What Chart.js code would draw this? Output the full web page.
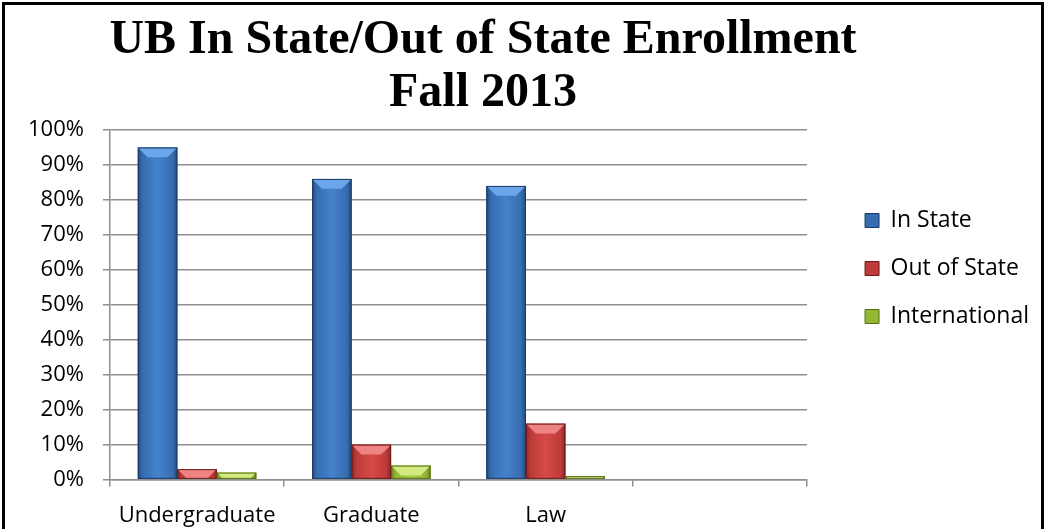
<!DOCTYPE html>
<html><head><meta charset="utf-8">
<script src="https://cdn.jsdelivr.net/npm/chart.js@4"></script>
<style>
html,body{margin:0;padding:0;background:#fff;overflow:hidden}
#frame{position:absolute;left:2px;top:2px;width:1042px;height:560px;border:3px solid #000;box-sizing:border-box}
#wrap{position:absolute;left:0;top:0;width:1036px;height:540px}
</style></head><body>
<div id="frame"><div id="wrap"><canvas id="c"></canvas></div></div>
<script>
const titleLines = ['UB In State/Out of State Enrollment', 'Fall 2013'];
const categories = ['Undergraduate', 'Graduate', 'Law', ''];
const seriesNames = ['In State', 'Out of State', 'International'];
const inState = [95, 86, 84, null];
const outOfState = [3, 10, 16, null];
const international = [2, 4, 1, null];
const yTickValues = [0, 10, 20, 30, 40, 50, 60, 70, 80, 90, 100];

const palettes = [
  {base:'#3a70b5', dark:'#234a7d', mid:'#376db0', light:'#4482cc', top:'#6aa6ea', edge:'#1c3b64'},
  {base:'#c03d3a', dark:'#8c2826', mid:'#bd3b38', light:'#d64a47', top:'#ee8383', edge:'#6e1c1b'},
  {base:'#96bb33', dark:'#6c8820', mid:'#93b832', light:'#a7cc42', top:'#d2ea80', edge:'#566d16'}
];

const GRID = '#8f8f8f';
const FONT = "'Open Sans', sans-serif";
const LEGEND_SHIFT = 33;

const bevelPlugin = {
  id: 'bevel',
  afterDatasetsDraw(chart) {
    const ctx = chart.ctx;
    ctx.save();
    chart.data.datasets.forEach((ds, i) => {
      const meta = chart.getDatasetMeta(i);
      const pal = palettes[i];
      meta.data.forEach((el, j) => {
        if (ds.data[j] === null || ds.data[j] === undefined) return;
        const p = el.getProps(['x', 'y', 'base', 'width'], true);
        const l = p.x - p.width / 2, r = p.x + p.width / 2;
        const t = Math.min(p.y, p.base), b = Math.max(p.y, p.base);
        const w = r - l, h = b - t;
        const g = ctx.createLinearGradient(l, 0, r, 0);
        g.addColorStop(0, pal.dark); g.addColorStop(0.12, pal.mid);
        g.addColorStop(0.5, pal.light); g.addColorStop(0.88, pal.mid); g.addColorStop(1, pal.dark);
        ctx.fillStyle = g; ctx.fillRect(l, t, w, h);
        const bv = Math.min(w * 0.25, h);
        ctx.beginPath(); ctx.moveTo(l, t); ctx.lineTo(r, t); ctx.lineTo(r - bv, t + bv); ctx.lineTo(l + bv, t + bv); ctx.closePath();
        ctx.fillStyle = pal.top; ctx.fill();
        ctx.strokeStyle = pal.edge; ctx.lineWidth = 1;
        ctx.strokeRect(l + 0.5, t + 0.5, w - 1, h - 1);
      });
    });
    ctx.restore();
  }
};

const titlePlugin = {
  id: 'bigTitle',
  afterDraw(chart) {
    const ctx = chart.ctx;
    ctx.save();
    ctx.fillStyle = '#000';
    ctx.textAlign = 'center';
    ctx.textBaseline = 'alphabetic';
    ctx.font = "bold 48px 'Liberation Serif', serif";
    const cx = 478;
    ctx.fillText(titleLines[0], cx, 48);
    ctx.fillText(titleLines[1], cx, 101);
    ctx.restore();
  }
};

// widen the legend box and shift its content right, to leave Excel-like gap after plot area
const legendGapPlugin = {
  id: 'legendGap',
  beforeLayout(chart) {
    const leg = chart.legend;
    if (!leg || leg._gapWrapped) return;
    const origFit = leg.fit.bind(leg);
    const origDraw = leg.draw.bind(leg);
    leg.fit = function () { origFit(); this.width += LEGEND_SHIFT; };
    leg.draw = function () {
      const c = this.ctx; c.save(); c.translate(LEGEND_SHIFT, 0); origDraw(); c.restore();
    };
    leg._gapWrapped = true;
  }
};

const mk = (label, data, i) => ({
  label, data,
  backgroundColor: palettes[i].base,
  borderColor: palettes[i].edge,
  borderWidth: 0,
  categoryPercentage: 0.68,
  barPercentage: 1.0
});

new Chart(document.getElementById('c'), {
  type: 'bar',
  data: {
    labels: categories,
    datasets: [mk(seriesNames[0], inState, 0), mk(seriesNames[1], outOfState, 1), mk(seriesNames[2], international, 2)]
  },
  plugins: [bevelPlugin, titlePlugin, legendGapPlugin],
  options: {
    responsive: true,
    maintainAspectRatio: false,
    animation: false,
    layout: { padding: { top: 125, left: 4, right: 2, bottom: 0 } },
    plugins: {
      title: { display: false },
      tooltip: { enabled: false },
      legend: {
        position: 'right',
        align: 'start',
        title: { display: true, text: ' ', font: { size: 10, lineHeight: 1 }, padding: { top: 44, bottom: 0 } },
        labels: {
          boxWidth: 14, boxHeight: 14, padding: 25, color: '#000',
          font: { family: FONT, size: 23 },
          generateLabels(chart) {
            return chart.data.datasets.map((ds, i) => ({
              text: ds.label, fillStyle: palettes[i].mid, strokeStyle: palettes[i].edge,
              fontColor: '#000', lineWidth: 1, datasetIndex: i, hidden: false
            }));
          }
        }
      }
    },
    scales: {
      x: {
        grid: { display: true, drawOnChartArea: false, offset: true, tickLength: 7, color: GRID, lineWidth: 1.5 },
        border: { display: true, color: GRID, width: 1.5 },
        ticks: { color: '#000', font: { family: FONT, size: 22 }, padding: 16, maxRotation: 0, autoSkip: false }
      },
      y: {
        min: 0, max: 100,
        afterBuildTicks(scale) { scale.ticks = yTickValues.map(v => ({ value: v })); },
        grid: { color: GRID, lineWidth: 1.5, tickLength: 7 },
        border: { display: true, color: GRID, width: 1.5 },
        ticks: { color: '#000', font: { family: FONT, size: 22 }, padding: 19, callback: v => v + '%' }
      }
    }
  }
});
</script>
</body></html>
